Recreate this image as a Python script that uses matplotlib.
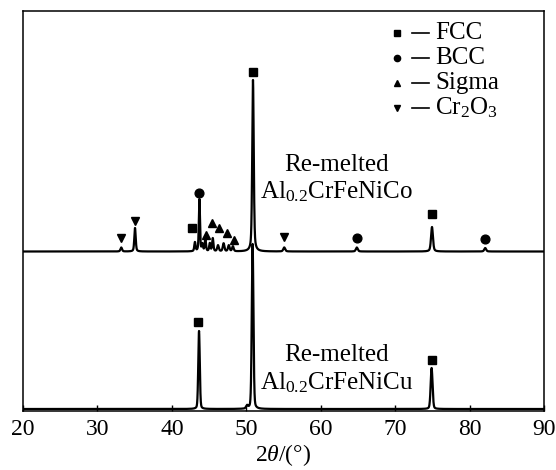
import numpy as np
import matplotlib
matplotlib.use("Agg")
import matplotlib.pyplot as plt
from matplotlib.lines import Line2D

plt.rcParams['font.family'] = ['Liberation Serif', 'DejaVu Serif']
plt.rcParams['mathtext.fontset'] = 'custom'
plt.rcParams['mathtext.rm'] = 'Liberation Serif'
plt.rcParams['mathtext.it'] = 'Liberation Serif:italic'

# ---- data ----
# upper pattern: re-melted Al0.2CrFeNiCo
co_base = 159.5
co_pos = [33.2, 35.05, 43.1, 43.7, 44.1, 44.5, 45.1, 45.5, 46.2, 46.95, 47.65, 48.2, 50.9, 55.1, 64.85, 74.95, 82.1]
co_h   = [4,    23.5,  9,    52,   7,    12,   8,    13,   6,    8,     6,     5,    171.5, 4,   4,     24.5,  3.5]
co_w   = [0.25, 0.22,  0.2,  0.18, 0.2,  0.2,  0.2,  0.2,  0.25, 0.25,  0.25,  0.25, 0.24, 0.3,  0.3,   0.3,   0.3]

# lower pattern: re-melted Al0.2CrFeNiCu
cu_base = 2.0
cu_pos = [43.65, 50.1, 50.85, 74.9]
cu_h   = [78,    3,    165,   41]
cu_w   = [0.24,  0.3,  0.26,  0.3]

# phase markers (2theta, marker height)
fcc_x = [42.7, 50.9, 74.95, 43.45, 74.9]
fcc_y = [183, 339, 197, 89, 51]
bcc_x = [43.65, 64.85, 82.1]
bcc_y = [218, 173, 172]
sig_x = [44.55, 45.4, 46.4, 47.45, 48.3]
sig_y = [176, 188, 183, 178, 171]
cr_x = [33.2, 35.05, 55.1]
cr_y = [173, 190, 174]

legend_labels = ['FCC', 'BCC', 'Sigma', r'Cr$_{\mathrm{2}}$O$_{\mathrm{3}}$']
legend_markers = ['s', 'o', '^', 'v']
xticks = [20, 30, 40, 50, 60, 70, 80, 90]


def profile(x, pos, h, w, eta):
    y = np.zeros_like(x)
    for p, hh, ww in zip(pos, h, w):
        g = np.exp(-4 * np.log(2) * ((x - p) / ww) ** 2)
        l = 1.0 / (1 + 4 * ((x - p) / ww) ** 2)
        y += hh * (eta * l + (1 - eta) * g)
    return y


x = np.arange(20, 90.001, 0.01)
y_co = co_base + profile(x, co_pos, co_h, co_w, 0.45)
y_cu = cu_base + profile(x, cu_pos, cu_h, cu_w, 0.25)

fig = plt.figure(figsize=(5.56, 4.70), dpi=100)
ax = fig.add_axes([23 / 556, 1 - 411 / 470, 521 / 556, 400 / 470])

ax.plot(x, y_co, color='black', lw=1.6)
ax.plot(x, y_cu, color='black', lw=1.6)

ax.plot(fcc_x, fcc_y, 's', color='black', ms=5.8, ls='none')
ax.plot(bcc_x, bcc_y, 'o', color='black', ms=6.3, ls='none')
ax.plot(sig_x, sig_y, '^', color='black', ms=6.3, ls='none')
ax.plot(cr_x, cr_y, 'v', color='black', ms=6.3, ls='none')

ax.set_xlim(20, 90)
ax.set_ylim(0, 400)
ax.set_xticks(xticks)
ax.set_yticks([])
ax.tick_params(axis='x', direction='in', length=4, width=1, labelsize=17, pad=6)
for s in ax.spines.values():
    s.set_linewidth(1.1)

ax.set_xlabel(r'$\mathit{2\theta}$/(°)', fontsize=17, labelpad=1.5)

fs = 18
ax.text(62.1, 246, 'Re-melted', fontsize=fs, ha='center', va='center')
ax.text(62.1, 219, r'Al$_{\mathrm{0.2}}$CrFeNiCo', fontsize=fs, ha='center', va='center')
ax.text(62.1, 56, 'Re-melted', fontsize=fs, ha='center', va='center')
ax.text(62.1, 28, r'Al$_{\mathrm{0.2}}$CrFeNiCu', fontsize=fs, ha='center', va='center')

# legend drawn by hand
rows = [33, 58, 83, 108]
for lab, mk, ypx in zip(legend_labels, legend_markers, rows):
    yf = 1 - (ypx - 11) / 400
    ax.plot([(397 - 23) / 521], [yf], mk, color='black', ms=4.5, transform=ax.transAxes, clip_on=False)
    ax.add_line(Line2D([(412 - 23) / 521, (429 - 23) / 521], [yf, yf], color='black', lw=1.2,
                       transform=ax.transAxes))
    ax.text((435 - 23) / 521, yf, lab, fontsize=fs, ha='left', va='center', transform=ax.transAxes)

fig.savefig('out.png', dpi=100)
